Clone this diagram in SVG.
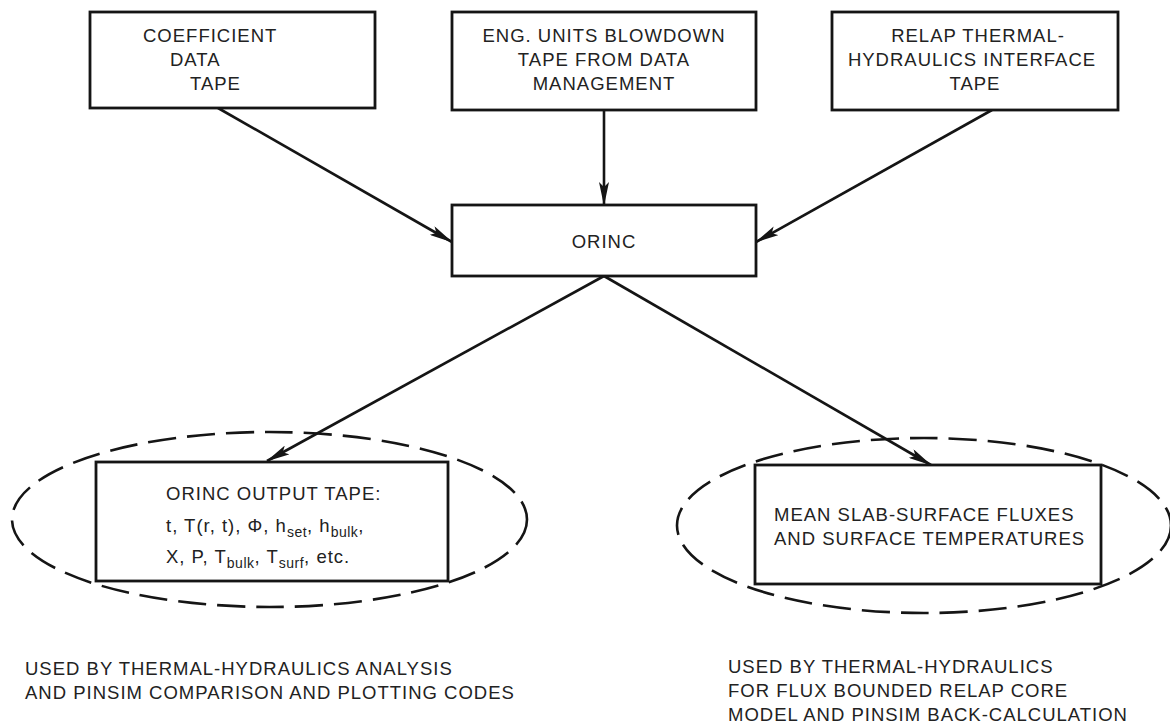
<svg xmlns="http://www.w3.org/2000/svg" width="1170" height="726" viewBox="0 0 1170 726">
<style>
.box{fill:#fff;stroke:#151515;stroke-width:2.8}
.oval{fill:none;stroke:#151515;stroke-width:2.6;stroke-dasharray:28 11}
.t{font-family:"Liberation Sans",Arial,sans-serif;font-size:18.5px;fill:#222;letter-spacing:1px}
.c{text-anchor:middle}
.sub{font-size:14px;letter-spacing:0.5px}
.edge{stroke:#151515;stroke-width:2.6;fill:none;marker-end:url(#ah)}
</style>
<defs>
<marker id="ah" viewBox="0 0 24 10" refX="23" refY="5" markerWidth="24" markerHeight="10" markerUnits="userSpaceOnUse" orient="auto">
<path d="M0,0 L24,5 L0,10 L5,5 z" fill="#151515"/>
</marker>
</defs>
<rect width="1170" height="726" fill="#fff"/>
<g id="connectors">
<line class="edge" x1="218" y1="108" x2="452" y2="242"/>
<line class="edge" x1="604" y1="110" x2="604" y2="205"/>
<line class="edge" x1="992" y1="110" x2="756" y2="242"/>
<line class="edge" x1="604" y1="276" x2="267" y2="461"/>
<line class="edge" x1="604" y1="276" x2="931" y2="465"/>
</g>
<g id="coef">
<rect class="box" x="90" y="12" width="285" height="96"/>
<text class="t" x="143" y="42">COEFFICIENT</text>
<text class="t" x="170" y="66">DATA</text>
<text class="t" x="190" y="90">TAPE</text>
</g>
<g id="eng">
<rect class="box" x="452" y="12" width="304" height="98"/>
<text class="t c" x="604" y="42">ENG. UNITS BLOWDOWN</text>
<text class="t c" x="604" y="66">TAPE FROM DATA</text>
<text class="t c" x="604" y="90">MANAGEMENT</text>
</g>
<g id="relap">
<rect class="box" x="832" y="12" width="286" height="98"/>
<text class="t c" x="978" y="42">RELAP THERMAL-</text>
<text class="t c" x="972" y="66">HYDRAULICS INTERFACE</text>
<text class="t c" x="975" y="90">TAPE</text>
</g>
<g id="orinc">
<rect class="box" x="452" y="205" width="304" height="71"/>
<text class="t c" x="604" y="248">ORINC</text>
</g>
<g id="output">
<ellipse class="oval" cx="269.5" cy="519.5" rx="257.5" ry="87.5"/>
<rect class="box" x="96" y="462" width="352" height="119"/>
<text class="t" x="166" y="500">ORINC OUTPUT TAPE:</text>
<text class="t" x="166" y="532">t, T(r, t), Φ, h<tspan class="sub" dy="5">set</tspan><tspan dy="-5">, h</tspan><tspan class="sub" dy="5">bulk</tspan><tspan dy="-5">,</tspan></text>
<text class="t" x="166" y="563">X, P, T<tspan class="sub" dy="5">bulk</tspan><tspan dy="-5">, T</tspan><tspan class="sub" dy="5">surf</tspan><tspan dy="-5">, etc.</tspan></text>
</g>
<g id="fluxes">
<ellipse class="oval" cx="924" cy="525.5" rx="247" ry="87.5"/>
<rect class="box" x="755" y="465" width="346" height="119"/>
<text class="t" x="774" y="521">MEAN SLAB-SURFACE FLUXES</text>
<text class="t" x="774" y="545">AND SURFACE TEMPERATURES</text>
</g>
<g id="notes">
<text class="t" x="25" y="675">USED BY THERMAL-HYDRAULICS ANALYSIS</text>
<text class="t" x="25" y="699">AND PINSIM COMPARISON AND PLOTTING CODES</text>
<text class="t" x="728" y="673">USED BY THERMAL-HYDRAULICS</text>
<text class="t" x="728" y="697">FOR FLUX BOUNDED RELAP CORE</text>
<text class="t" x="728" y="721">MODEL AND PINSIM BACK-CALCULATION</text>
</g>
</svg>
